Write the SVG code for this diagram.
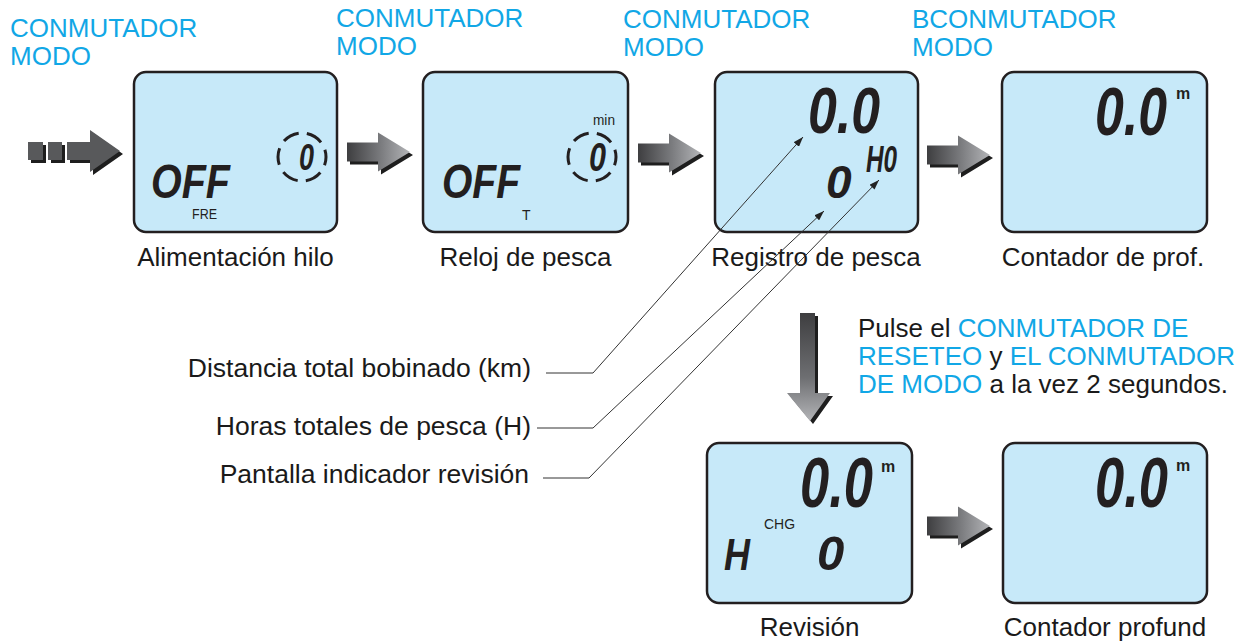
<svg xmlns="http://www.w3.org/2000/svg" width="1251" height="641" viewBox="0 0 1251 641">
<style>
.lcd{fill:#c7e9f9;stroke:#231f20;stroke-width:2.5}
.blue{fill:#11a7e6}
.lbl{font-family:"Liberation Sans",Arial,sans-serif;font-size:26px;fill:#1a1a1a}
.side{font-size:26.5px}
.blab{font-family:"Liberation Sans",Arial,sans-serif;font-size:26px;fill:#11a7e6}
.seg{font-family:"Liberation Sans",Arial,sans-serif;font-weight:bold;font-style:italic;fill:#231f20}
.sm{font-family:"Liberation Sans",Arial,sans-serif;fill:#231f20}
.unit{font-family:"Liberation Sans",Arial,sans-serif;fill:#231f20;font-size:16px;font-weight:bold}
.ring{fill:none;stroke:#231f20;stroke-width:3;stroke-dasharray:16.76 8.38;stroke-dashoffset:8.38}
.lead{fill:none;stroke:#333;stroke-width:1}
</style>
<defs>
<linearGradient id="gh" x1="0" y1="0" x2="1" y2="0">
<stop offset="0" stop-color="#3e3e40"/><stop offset="0.5" stop-color="#76777a"/><stop offset="1" stop-color="#b3b4b7"/>
</linearGradient>
<linearGradient id="gv" x1="0" y1="0" x2="0" y2="1">
<stop offset="0" stop-color="#3e3e40"/><stop offset="0.6" stop-color="#6e6f72"/><stop offset="1" stop-color="#b3b4b7"/>
</linearGradient>
<path id="ah" d="M-63,-9.5 H-32 V-19.5 L0,0 L-32,19.5 V9.5 H-63 Z"/>
<marker id="tip" viewBox="0 0 10 7" refX="10" refY="3.5" markerWidth="10" markerHeight="7" orient="auto" markerUnits="userSpaceOnUse">
<path d="M0,0 L10,3.5 L0,7 Z" fill="#222"/>
</marker>
</defs>

<g id="labels-top">
<text class="blab" x="10" y="37">CONMUTADOR</text>
<text class="blab" x="10" y="65">MODO</text>
<text class="blab" x="336" y="27">CONMUTADOR</text>
<text class="blab" x="336" y="55">MODO</text>
<text class="blab" x="623" y="28">CONMUTADOR</text>
<text class="blab" x="623" y="56">MODO</text>
<text class="blab" x="912" y="28">BCONMUTADOR</text>
<text class="blab" x="912" y="56">MODO</text>
</g>

<g id="screen-alimentacion">
<rect class="lcd" x="134" y="72" width="203" height="160" rx="12"/>
<text class="seg" transform="translate(151,198) scale(1,1.24)" font-size="39.5">OFF</text>
<text class="sm" x="192" y="219" font-size="14" textLength="25" lengthAdjust="spacingAndGlyphs">FRE</text>
<circle class="ring" cx="302" cy="157" r="24"/>
<text class="seg" transform="translate(299,170) scale(1,1.4)" font-size="27">0</text>
<text class="lbl" x="235.5" y="266" text-anchor="middle">Alimentación hilo</text>
</g>

<g id="screen-reloj">
<rect class="lcd" x="423" y="72" width="205" height="160" rx="12"/>
<text class="seg" transform="translate(442,198) scale(1,1.25)" font-size="39">OFF</text>
<text class="sm" x="522" y="220" font-size="14">T</text>
<text class="sm" x="593" y="125" font-size="14" textLength="22" lengthAdjust="spacingAndGlyphs">min</text>
<circle class="ring" cx="592" cy="157" r="24"/>
<text class="seg" transform="translate(589,171) scale(1,1.32)" font-size="30.6">0</text>
<text class="lbl" x="525.5" y="266" text-anchor="middle">Reloj de pesca</text>
</g>

<g id="screen-registro">
<rect class="lcd" x="715" y="72" width="203" height="160" rx="12"/>
<text class="seg" transform="translate(808,133) scale(1,1.24)" font-size="51.8">0.0</text>
<text class="seg" x="826" y="198" font-size="46">0</text>
<text class="seg" transform="translate(866,172) scale(1,1.55)" font-size="24.3">H0</text>
<text class="lbl" x="816" y="266" text-anchor="middle">Registro de pesca</text>
</g>

<g id="screen-contador">
<rect class="lcd" x="1002" y="72" width="205" height="160" rx="12"/>
<text class="seg" transform="translate(1095,135) scale(1,1.32)" font-size="51.8">0.0</text>
<text class="unit" x="1176" y="99">m</text>
<text class="lbl" x="1103" y="266" text-anchor="middle">Contador de prof.</text>
</g>

<g id="left-labels">
<text class="lbl side" x="531" y="377" text-anchor="end">Distancia total bobinado (km)</text>
<text class="lbl side" x="531" y="435" text-anchor="end">Horas totales de pesca (H)</text>
<text class="lbl side" x="529" y="483" text-anchor="end">Pantalla indicador revisión</text>
</g>

<g id="instruction">
<text class="lbl" x="858" y="337">Pulse el <tspan class="blue">CONMUTADOR DE</tspan></text>
<text class="lbl" x="858" y="365"><tspan class="blue">RESETEO</tspan> y <tspan class="blue">EL CONMUTADOR</tspan></text>
<text class="lbl" x="858" y="393"><tspan class="blue">DE MODO</tspan> a la vez 2 segundos.</text>
</g>

<g id="screen-revision">
<rect class="lcd" x="707" y="443" width="205" height="160" rx="12"/>
<text class="seg" transform="translate(800,507) scale(1,1.33)" font-size="52.5">0.0</text>
<text class="unit" x="881" y="472">m</text>
<text class="sm" x="764" y="529" font-size="15" textLength="31" lengthAdjust="spacingAndGlyphs">CHG</text>
<text class="seg" transform="translate(724,570) scale(1,1.24)" font-size="36">H</text>
<text class="seg" x="817" y="570" font-size="49">0</text>
<text class="lbl" x="809.5" y="636" text-anchor="middle">Revisión</text>
</g>

<g id="screen-contador-profund">
<rect class="lcd" x="1003" y="443" width="204" height="160" rx="12"/>
<text class="seg" transform="translate(1095,507) scale(1,1.33)" font-size="52.5">0.0</text>
<text class="unit" x="1176" y="471">m</text>
<text class="lbl" x="1105" y="636" text-anchor="middle">Contador profund</text>
</g>

<g id="connectors">
<g id="arrow-start">
<g transform="translate(3,3)" fill="#1e1e1e">
<rect x="28" y="142" width="15" height="18"/><rect x="48" y="142" width="14" height="18"/>
<path d="M67,142 H90 V130 L120,151 L90,172 V160 H67 Z"/>
</g>
<g fill="#58595b">
<rect x="28" y="142" width="15" height="18"/><rect x="48" y="142" width="14" height="18"/>
<path d="M67,142 H90 V130 L120,151 L90,172 V160 H67 Z"/>
</g>
</g>
<g id="arrow-1-2">
<use href="#ah" transform="translate(413,155)" fill="#1e1e1e"/>
<use href="#ah" transform="translate(410,152)" fill="url(#gh)"/>
</g>
<g id="arrow-2-3">
<use href="#ah" transform="translate(704,156)" fill="#1e1e1e"/>
<use href="#ah" transform="translate(701,153)" fill="url(#gh)"/>
</g>
<g id="arrow-3-4">
<use href="#ah" transform="translate(993,158)" fill="#1e1e1e"/>
<use href="#ah" transform="translate(990,155)" fill="url(#gh)"/>
</g>
<g id="arrow-5-6">
<use href="#ah" transform="translate(993,529)" fill="#1e1e1e"/>
<use href="#ah" transform="translate(990,526)" fill="url(#gh)"/>
</g>
<g id="arrow-down">
<path d="M803,316 H818 V396 H833 L813,424 L790,396 H803 Z" fill="#1e1e1e"/>
<path d="M800,313 H815 V393 H830 L810,421 L787,393 H800 Z" fill="url(#gv)"/>
</g>
<path class="lead" d="M546,373 H593 L803,137" marker-end="url(#tip)"/>
<path class="lead" d="M537,428 H593 L824,211" marker-end="url(#tip)"/>
<path class="lead" d="M543,478 H589 L879,180" marker-end="url(#tip)"/>
</g>
</svg>
